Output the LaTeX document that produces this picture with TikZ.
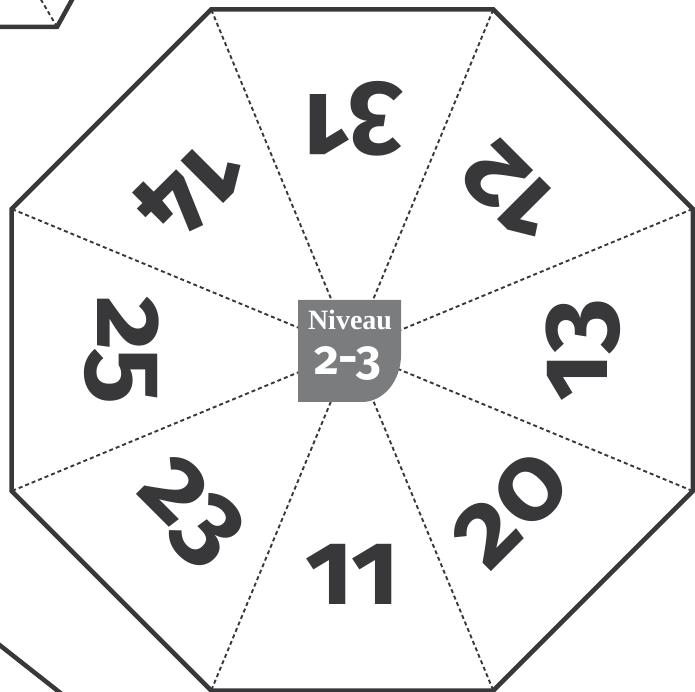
\documentclass[tikz,border=0pt]{standalone}
\usepackage{fontspec}
\newfontfamily\numfont[Numbers=OldStyle]{Fira Sans}
\newfontfamily\tagfont{Liberation Serif}
\usetikzlibrary{calc}
\definecolor{ink}{HTML}{38383A}
\definecolor{badge}{HTML}{7B7C7E}
\begin{document}
\begin{tikzpicture}[x=1pt, y=1pt,
    edge/.style={draw=ink, line width=4.5pt},
    fold/.style={draw=ink, line width=1.9pt, dash pattern=on 4pt off 3pt},
    num/.style={text=ink, inner sep=0pt, anchor=base, font=\numfont\bfseries\fontsize{106}{106}\selectfont},
    tag/.style={text=white, inner sep=0pt}
]
\useasboundingbox (0,0) rectangle (695,692);

% Centre and corners
\coordinate (c) at (352.25,342);
\foreach \i in {0,...,7}
{
    \coordinate (v\i) at ($(c)+(22.5+45*\i:368.6)$);
}

% Fold lines
\foreach \i in {0,...,7}
{
    \draw[fold] (c) -- (v\i);
}

% Outline
\draw[edge] (v0) -- (v1) -- (v2) -- (v3) -- (v4) -- (v5) -- (v6) -- (v7) -- cycle;

% Neighbouring sheets
\coordinate (tl) at (57,665);
\coordinate (tla) at (-5,665);
\coordinate (tlb) at (73,694);
\coordinate (tlc) at (40,694);
\coordinate (bla) at (-3,49);
\coordinate (blb) at (63,-3);
\draw[edge] (tla) -- (tl) -- (tlb);
\draw[fold] (tl) -- (tlc);
\draw[edge] (bla) -- (blb);

% Numbers
\foreach \ang/\val in {90/31,45/12,0/13,-45/20,-90/11,-135/23,180/25,135/14}
{
    \node[num, rotate=\ang+90] (n\val) at ($(c)+(\ang:255)$) {\val};
}

% Level badge
\fill[badge] (298,392) -- (401,392) -- (401,337)
    arc[start angle=0, end angle=-90, x radius=39, y radius=47] -- (298,290) -- cycle;
\node[tag, font=\tagfont\bfseries\fontsize{28}{28}\selectfont] (niveau) at (350,372) {Niveau};
\node[tag, font=\numfont\bfseries\fontsize{48}{48}\selectfont] (level) at (348,328) {2-3};

\end{tikzpicture}
\end{document}
